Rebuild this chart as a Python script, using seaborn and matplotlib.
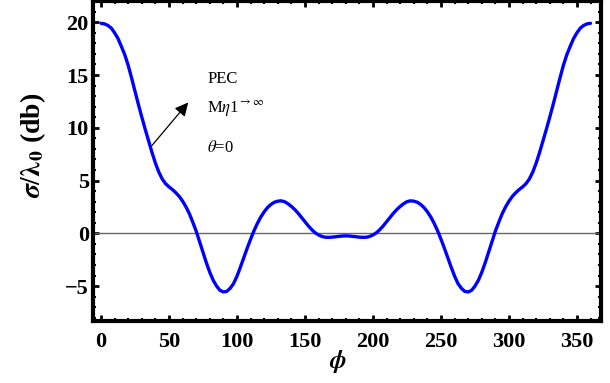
import numpy as np
import pandas as pd
import matplotlib
matplotlib.use("Agg")
import matplotlib.pyplot as plt
from matplotlib.ticker import MultipleLocator
import seaborn as sns

# angle (deg), 2.5 deg steps
phi = [i * 2.5 for i in range(145)]
# normalised RCS (db)
rcs = [19.9, 19.85, 19.7, 19.45, 19.0, 18.45, 17.7, 16.9, 15.9, 14.7,
       13.45, 12.2, 11.0, 9.85, 8.75, 7.65, 6.65, 5.8, 5.15, 4.7,
       4.4, 4.15, 3.85, 3.5, 3.05, 2.5, 1.85, 1.05, 0.2, -0.8,
       -1.8, -2.8, -3.7, -4.45, -5.0, -5.4, -5.55, -5.5, -5.2, -4.75,
       -4.05, -3.2, -2.3, -1.4, -0.55, 0.25, 0.95, 1.55, 2.05, 2.45,
       2.75, 2.95, 3.05, 3.08, 3.0, 2.8, 2.55, 2.25, 1.9, 1.5,
       1.1, 0.7, 0.35, 0.05, -0.15, -0.3, -0.37, -0.38, -0.36, -0.32,
       -0.28, -0.25, -0.24,
       -0.25, -0.28, -0.32, -0.36, -0.38, -0.37, -0.3, -0.15, 0.05, 0.35,
       0.7, 1.1, 1.5, 1.9, 2.25, 2.55, 2.8, 3.0, 3.08, 3.05,
       2.95, 2.75, 2.45, 2.05, 1.55, 0.95, 0.25, -0.55, -1.4, -2.3,
       -3.2, -4.05, -4.75, -5.2, -5.5, -5.55, -5.4, -5.0, -4.45, -3.7,
       -2.8, -1.8, -0.8, 0.2, 1.05, 1.85, 2.5, 3.05, 3.5, 3.85,
       4.15, 4.4, 4.7, 5.15, 5.8, 6.65, 7.65, 8.75, 9.85, 11.0,
       12.2, 13.45, 14.7, 15.9, 16.9, 17.7, 18.45, 19.0, 19.45, 19.7,
       19.85, 19.9]

df = pd.DataFrame({"phi": phi, "rcs": rcs})

sns.set_style("ticks")
plt.rcParams["font.family"] = ["Liberation Serif", "DejaVu Serif"]
plt.rcParams["mathtext.fontset"] = "stix"
plt.rcParams["text.color"] = "black"
plt.rcParams["axes.labelcolor"] = "black"
plt.rcParams["xtick.color"] = "black"
plt.rcParams["ytick.color"] = "black"

fig = plt.figure(figsize=(6.1, 3.83), dpi=100)
ax = fig.add_axes([0.1525, 0.162, 0.8325, 0.835])

ax.axhline(0, color="#666666", lw=1.0, zorder=1)
sns.lineplot(data=df, x="phi", y="rcs", ax=ax, color="#0000ff", lw=2.4, zorder=3)

ax.set_xlim(-5.9, 367.6)
ax.set_ylim(-8.3, 22)
ax.xaxis.set_major_locator(MultipleLocator(50))
ax.xaxis.set_minor_locator(MultipleLocator(10))
ax.yaxis.set_minor_locator(MultipleLocator(1))
ax.tick_params(which="both", direction="in", top=True, right=True)
ax.tick_params(which="major", length=4, width=2, labelsize=16)
ax.tick_params(axis="y", which="major", pad=3)
ax.tick_params(axis="x", which="major", pad=8)
ax.tick_params(which="minor", length=2.5, width=1.5)
ax.set_xticks([0, 50, 100, 150, 200, 250, 300, 350])
ax.set_xticklabels(["0", "50", "100", "150", "200", "250", "300", "350"], fontweight="bold")
ax.set_yticks([-5, 0, 5, 10, 15, 20])
ax.set_yticklabels(["\u22125", "0", "5", "10", "15", "20"], fontweight="bold")
for s in ax.spines.values():
    s.set_linewidth(3)
    s.set_color("black")

ax.set_xlabel(r"$\mathbfit{\phi}$", fontsize=18)
ax.xaxis.set_label_coords(0.482, -0.085)
ax.set_ylabel(r"$\mathbfit{\sigma}/\mathbf{\lambda_0}$ (db)", fontsize=20,
              fontweight="bold")
ax.yaxis.set_label_coords(-0.088, 0.55)

ax.annotate("", xy=(65.4, 12.6), xytext=(36, 8.1),
            arrowprops=dict(arrowstyle="-|>", color="black", lw=0.9,
                            mutation_scale=20))
ax.text(78, 14.6, "PEC", fontsize=12, va="center", ha="left")
ax.text(78, 11.8, r"M$\eta$1$^{\rightarrow\infty}$", fontsize=12, va="center", ha="left")
ax.text(78, 8.1, r"$\theta$=0", fontsize=12, va="center", ha="left")

fig.savefig("out.png", dpi=100)
